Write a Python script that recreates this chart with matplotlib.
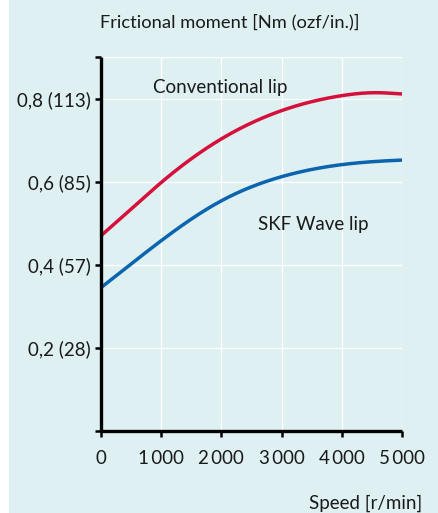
import matplotlib
matplotlib.use("Agg")
import matplotlib.pyplot as plt
from matplotlib.patches import Rectangle
import numpy as np

plt.rcParams["font.family"] = ["Lato", "DejaVu Sans"]

# values
speed = [0, 500, 1000, 2000, 3000, 4000, 4500, 5000]
conventional = [0.470, 0.534, 0.598, 0.703, 0.771, 0.807, 0.814, 0.811]
wave = [0.345, 0.402, 0.458, 0.554, 0.612, 0.641, 0.648, 0.652]
yticks = [0, 0.2, 0.4, 0.6, 0.8, 0.9]
ylabels = ["", "0,2 (28)", "0,4 (57)", "0,6 (85)", "0,8 (113)", ""]
xticks = [0, 1000, 2000, 3000, 4000, 5000]
xlabels = ["0", "1\u2009000", "2\u2009000", "3\u2009000", "4\u2009000", "5\u2009000"]

BG = "#dff0f3"
RED = "#d5103a"
BLUE = "#0a64ae"
TXT = "#1a1a1a"


def spline(x, y, n=300):
    # natural cubic spline through the read points
    x = np.asarray(x, float)
    y = np.asarray(y, float)
    k = len(x)
    h = np.diff(x)
    A = np.zeros((k, k))
    b = np.zeros(k)
    A[0, 0] = A[-1, -1] = 1
    for i in range(1, k - 1):
        A[i, i - 1] = h[i - 1]
        A[i, i] = 2 * (h[i - 1] + h[i])
        A[i, i + 1] = h[i]
        b[i] = 6 * ((y[i + 1] - y[i]) / h[i] - (y[i] - y[i - 1]) / h[i - 1])
    M = np.linalg.solve(A, b)
    xs = np.linspace(x[0], x[-1], n)
    j = np.clip(np.searchsorted(x, xs) - 1, 0, k - 2)
    t0 = x[j + 1] - xs
    t1 = xs - x[j]
    hj = h[j]
    ys = (M[j] * t0**3 + M[j + 1] * t1**3) / (6 * hj) \
        + (y[j] / hj - M[j] * hj / 6) * t0 + (y[j + 1] / hj - M[j + 1] * hj / 6) * t1
    return xs, ys


W, H = 438, 513
fig = plt.figure(figsize=(W / 100, H / 100), dpi=100, facecolor=BG)
fig.patches.append(Rectangle((0, 0), 9 / W, 1, transform=fig.transFigure,
                             facecolor="white", edgecolor="none", zorder=0))

ax = fig.add_axes([101 / W, (H - 431) / H, 301 / W, 374 / H])
ax.set_facecolor(BG)
ax.set_xlim(0, 5000)
ax.set_ylim(0, 0.9)

for s in ("top", "right"):
    ax.spines[s].set_visible(False)
for s in ("left", "bottom"):
    ax.spines[s].set_linewidth(2.4)
    ax.spines[s].set_color("black")
    ax.spines[s].set_capstyle("butt")

ax.set_xticks(xticks)
ax.set_xticklabels(xlabels)
ax.set_yticks(yticks)
ax.set_yticklabels(ylabels)
ax.tick_params(axis="both", direction="out", length=4.5, width=1.8,
               labelsize=13.5, colors="black", labelcolor=TXT)
ax.tick_params(axis="x", pad=9)
ax.tick_params(axis="y", pad=3)
ax.grid(True, color="white", linewidth=1.0)
ax.set_axisbelow(True)

xs, ys = spline(speed, conventional)
ax.plot(xs, ys, color=RED, lw=2.5, solid_capstyle="butt", clip_on=False)
xs, ys = spline(speed, wave)
ax.plot(xs, ys, color=BLUE, lw=2.5, solid_capstyle="butt", clip_on=False)

ax.text(860, 0.826, "Conventional lip", fontsize=13.5, color=TXT,
        ha="left", va="center")
ax.text(2600, 0.497, "SKF Wave lip", fontsize=13.5, color=TXT,
        ha="left", va="center")

fig.text(100 / W, 1 - 22 / H, "Frictional moment [Nm (ozf/in.)]", fontsize=13.2,
         color=TXT, ha="left", va="center")
fig.text(422 / W, 1 - 503 / H, "Speed [r/min]", fontsize=13.5,
         color=TXT, ha="right", va="center")

fig.savefig("out.png", dpi=100, facecolor=BG)
